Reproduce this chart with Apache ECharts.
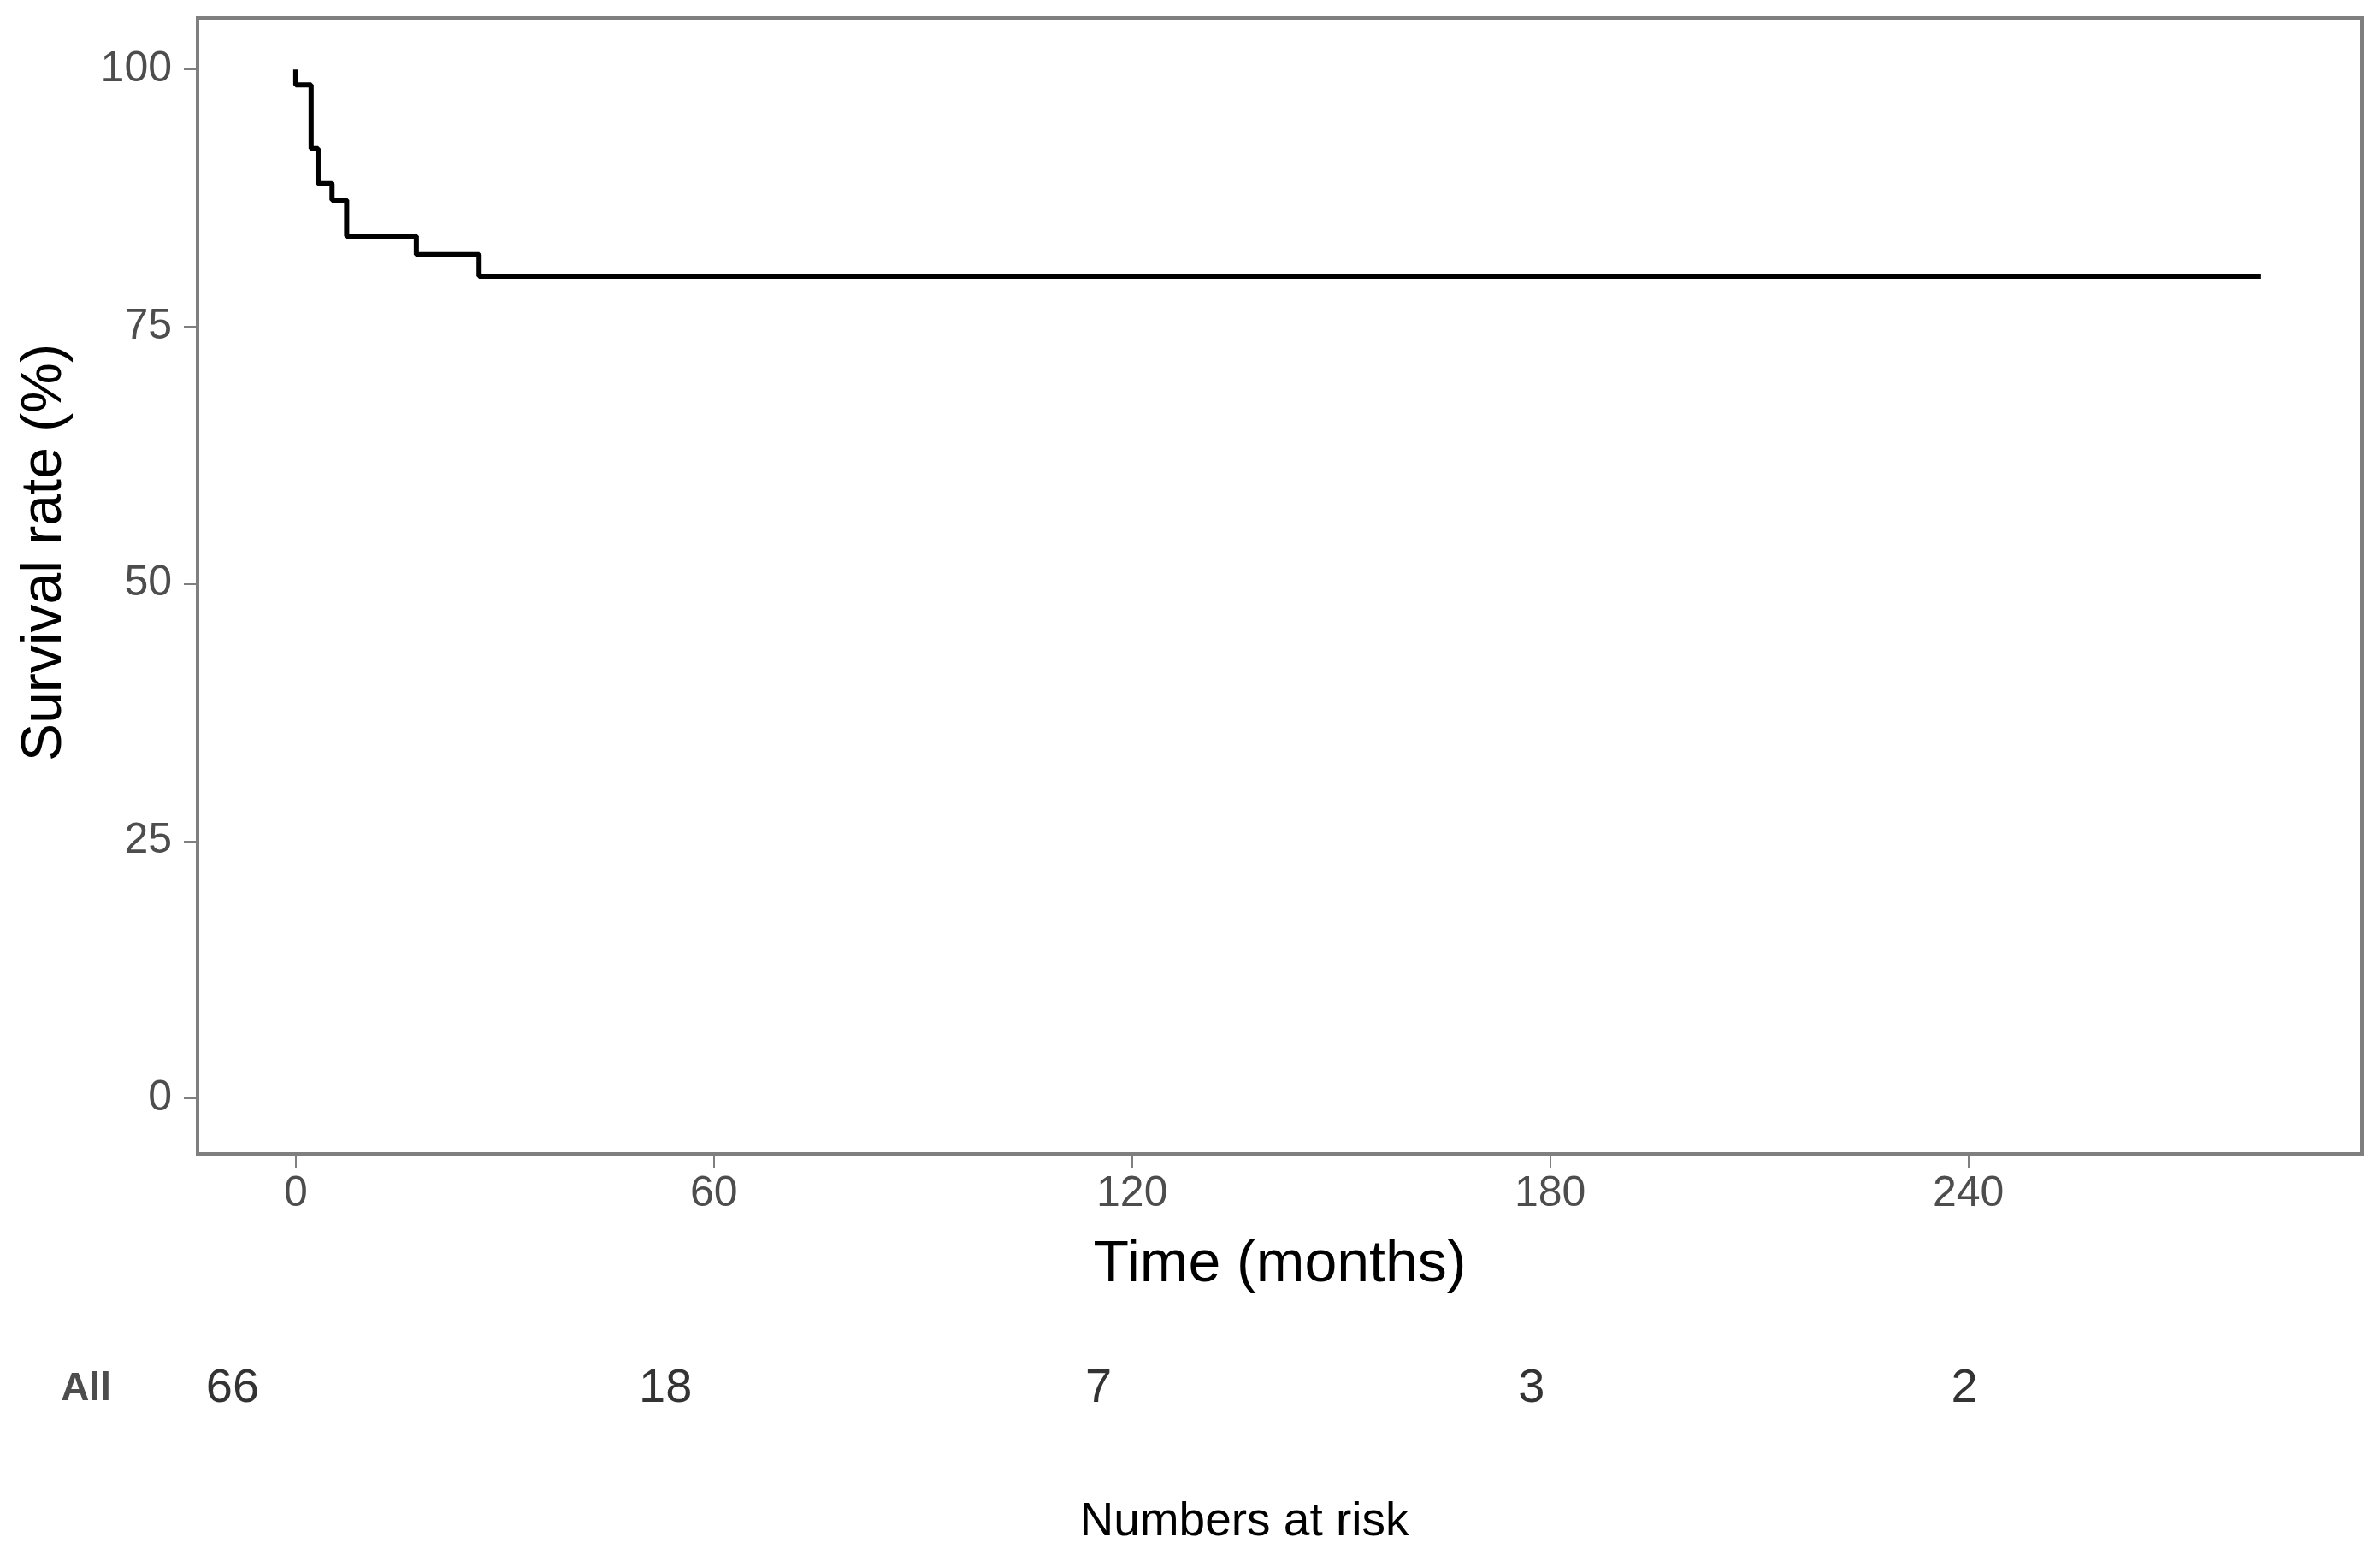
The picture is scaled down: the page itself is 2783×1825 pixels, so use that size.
<!DOCTYPE html>
<html>
<head>
<meta charset="utf-8">
<script src="https://cdn.jsdelivr.net/npm/echarts@6/dist/echarts.min.js"></script>
<style>
  html, body { margin: 0; padding: 0; background: #ffffff; }
  #chart { width: 2783px; height: 1825px; }
</style>
</head>
<body>
<div id="chart"></div>
<script>
// survival curve (months, %)
const times = [0, 0, 2.2, 3.2, 5.2, 7.3, 17.3, 26.3, 282];
const survival = [100, 98.5, 92.3, 88.9, 87.3, 83.8, 82.0, 79.9, 79.9];

const xTicks = [0, 60, 120, 180, 240];
const yTicks = [0, 25, 50, 75, 100];

// numbers at risk
const riskTimes = [0, 60, 120, 180, 240];
const riskCounts = [66, 18, 7, 3, 2];
const riskGroup = ['All'];

const font = "'Liberation Sans', Arial, sans-serif";
const axisGray = '#7f7f7f';
const labelGray = '#4d4d4d';

const chart = echarts.init(document.getElementById('chart'));
chart.setOption({
    animation: false,
    backgroundColor: '#ffffff',
    grid: [
        { left: 231, right: 21, top: 21, bottom: 476, show: true, borderColor: axisGray, borderWidth: 4, backgroundColor: '#ffffff' },
        { left: 272, width: 2025, top: 1600, height: 48 }
    ],
    xAxis: [
        {
            gridIndex: 0,
            type: 'value',
            min: -14.1,
            max: 296.5,
            interval: 60,
            axisLine: { show: false, onZero: false },
            axisTick: { show: true, length: 16, lineStyle: { color: axisGray, width: 2 }, customValues: xTicks },
            axisLabel: { color: labelGray, fontSize: 50, fontFamily: font, margin: 22, customValues: xTicks },
            splitLine: { show: false },
            name: 'Time (months)',
            nameLocation: 'middle',
            nameGap: 96,
            nameTextStyle: { color: '#000000', fontSize: 68, fontFamily: font }
        },
        {
            gridIndex: 1,
            type: 'value',
            min: 0,
            max: 240,
            show: false
        }
    ],
    yAxis: [
        {
            gridIndex: 0,
            type: 'value',
            min: -5.4,
            max: 105,
            axisLine: { show: false, onZero: false },
            axisTick: { show: true, length: 16, lineStyle: { color: axisGray, width: 2 }, customValues: yTicks },
            axisLabel: { color: labelGray, fontSize: 50, fontFamily: font, margin: 30, customValues: yTicks },
            splitLine: { show: false }
        },
        {
            gridIndex: 1,
            type: 'category',
            data: riskGroup,
            axisLine: { show: false },
            axisTick: { show: false },
            axisLabel: { color: labelGray, fontSize: 46, fontWeight: 'bold', fontFamily: font, margin: 142 }
        }
    ],
    graphic: [
        {
            type: 'text',
            x: 53,
            y: 646,
            rotation: Math.PI / 2,
            style: {
                text: 'Survival rate (%)',
                fill: '#000000',
                font: '66px ' + font,
                textAlign: 'center',
                textVerticalAlign: 'middle'
            }
        },
        {
            type: 'text',
            x: 1455,
            y: 1780,
            style: {
                text: 'Numbers at risk',
                fill: '#000000',
                font: '55px ' + font,
                textAlign: 'center',
                textVerticalAlign: 'middle'
            }
        }
    ],
    series: [
        {
            type: 'line',
            xAxisIndex: 0,
            yAxisIndex: 0,
            step: 'end',
            symbol: 'none',
            lineStyle: { color: '#000000', width: 6 },
            data: times.map((t, i) => [t, survival[i]])
        },
        {
            type: 'scatter',
            xAxisIndex: 1,
            yAxisIndex: 1,
            symbolSize: 0,
            label: {
                show: true,
                position: 'inside',
                color: '#000000',
                fontSize: 56,
                fontFamily: font,
                formatter: p => p.value[2]
            },
            data: riskTimes.map((t, i) => [t, riskGroup[0], riskCounts[i]])
        }
    ]
});
</script>
</body>
</html>
